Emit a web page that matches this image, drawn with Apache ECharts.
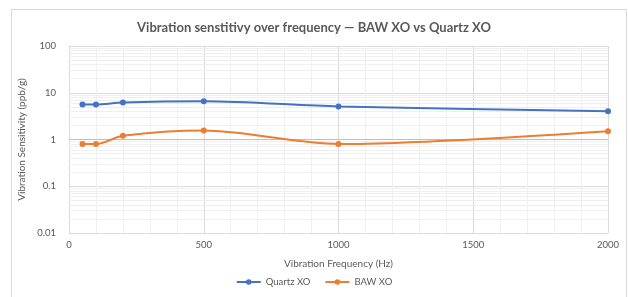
<!DOCTYPE html>
<html>
<head>
<meta charset="utf-8">
<script src="https://cdn.jsdelivr.net/npm/echarts@6/dist/echarts.min.js"></script>
<style>
  html, body { margin: 0; padding: 0; background: #fff; }
  #frame { position: absolute; left: 11px; top: 9px; width: 616px; height: 300px; border: 1px solid #d9d9d9; box-sizing: border-box; }
  #chart { position: absolute; left: 0; top: 0; width: 628px; height: 297px; }
</style>
</head>
<body>
<div id="frame"></div>
<div id="chart"></div>
<script>
const frequencies = [50, 100, 200, 500, 1000, 2000]
const quartzValues = [5.6, 5.6, 6.2, 6.6, 5.1, 4.0]
const bawValues = [0.8, 0.8, 1.2, 1.55, 0.8, 1.5]
const minorYLines = [0.02, 0.03, 0.04, 0.05, 0.06, 0.07, 0.08, 0.09,
  0.2, 0.3, 0.4, 0.5, 0.6, 0.7, 0.8, 0.9,
  2, 3, 4, 5, 6, 7, 8, 9,
  20, 30, 40, 50, 60, 70, 80, 90]
const axisCross = 1

const font = 'Lato, "Open Sans", sans-serif'
const textGray = '#595959'

const myChart = echarts.init(document.getElementById('chart'))
const toPairs = (ys) => frequencies.map((x, i) => [x, ys[i]])

const options = {
  animation: false,
  textStyle: { fontFamily: font },
  title: {
    text: 'Vibration senstitivy over frequency — BAW XO vs Quartz XO',
    left: 'center',
    top: 16,
    textStyle: { color: textGray, fontSize: 13, fontWeight: 'bold', fontFamily: font }
  },
  grid: { left: 69, right: 20, top: 46, bottom: 64 },
  legend: {
    bottom: 5,
    left: 'center',
    itemWidth: 24,
    itemHeight: 7,
    itemGap: 14,
    textStyle: { color: textGray, fontSize: 9.5 },
    data: ['Quartz XO', 'BAW XO']
  },
  xAxis: {
    type: 'value',
    min: 0,
    max: 2000,
    interval: 500,
    name: 'Vibration Frequency (Hz)',
    nameLocation: 'middle',
    nameGap: 26,
    nameTextStyle: { color: textGray, fontSize: 10 },
    axisLine: { show: false },
    axisTick: { show: false },
    axisLabel: { color: textGray, fontSize: 9.5, margin: 7, formatter: (v) => String(v) },
    splitLine: { show: true, lineStyle: { color: '#d9d9d9', width: 1 } },
    minorTick: { show: false, splitNumber: 5 },
    minorSplitLine: { show: true, lineStyle: { color: '#f0f0f0', width: 1 } }
  },
  yAxis: {
    type: 'log',
    logBase: 10,
    min: 0.01,
    max: 100,
    name: 'Vibration Sensitivity (ppb/g)',
    nameLocation: 'middle',
    nameGap: 34,
    nameTextStyle: { color: textGray, fontSize: 10 },
    axisLine: { show: false },
    axisTick: { show: false },
    axisLabel: { color: textGray, fontSize: 9.5, margin: 13 },
    splitLine: { show: true, lineStyle: { color: '#dcdcdc', width: 1 } }
  },
  series: [
    {
      name: 'grid-minor',
      type: 'line',
      data: [],
      z: 1,
      silent: true,
      markLine: {
        silent: true,
        symbol: ['none', 'none'],
        label: { show: false },
        animation: false,
        lineStyle: { color: '#efefef', width: 1, type: 'solid' },
        data: minorYLines.map((v) => ({ yAxis: v }))
      }
    },
    {
      name: 'axis-cross',
      type: 'line',
      data: [],
      z: 2,
      silent: true,
      markLine: {
        silent: true,
        symbol: ['none', 'none'],
        label: { show: false },
        animation: false,
        lineStyle: { color: '#bfbfbf', width: 1, type: 'solid' },
        data: [{ yAxis: axisCross }]
      }
    },
    {
      name: 'Quartz XO',
      type: 'line',
      smooth: 0.3,
      z: 5,
      symbol: 'circle',
      symbolSize: 6,
      itemStyle: { color: '#4472c4' },
      lineStyle: { color: '#4472c4', width: 2 },
      data: toPairs(quartzValues)
    },
    {
      name: 'BAW XO',
      type: 'line',
      smooth: 0.3,
      z: 5,
      symbol: 'circle',
      symbolSize: 6,
      itemStyle: { color: '#ed7d31' },
      lineStyle: { color: '#ed7d31', width: 2 },
      data: toPairs(bawValues)
    }
  ]
}
myChart.setOption(options)
</script>
</body>
</html>
